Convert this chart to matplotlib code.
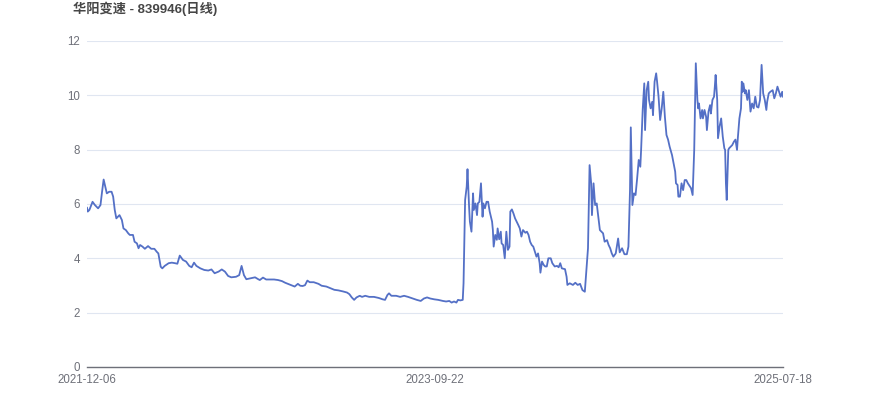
import matplotlib
matplotlib.use('Agg')
import matplotlib.pyplot as plt

plt.rcParams['font.family'] = ['Liberation Sans', 'Noto Sans CJK SC', 'DejaVu Sans']

# Chart info
title = '华阳变速 - 839946(日线)'
tick_dates = ['2021-12-06', '2023-09-22', '2025-07-18']
n_days = 879

# Daily close, sampled (trading-day index, price)
day_a = [0, 1, 3, 7, 10, 14, 17, 19, 21, 23, 25, 28, 31, 33, 35, 37, 41, 44, 46, 49,
         52, 54, 58, 60, 63, 65, 67, 70, 73, 77, 81, 85, 88, 90, 93, 95, 98, 103, 107, 111,
         114, 117, 121, 125, 129, 132, 135, 138, 143, 148, 153, 157, 161, 166, 170, 174, 178, 182, 188, 192,
         195, 198, 201, 206, 212, 216]
close_a = [5.86, 5.72, 5.78, 6.08, 5.96, 5.84, 5.96, 6.45, 6.9, 6.64, 6.39, 6.45, 6.45, 6.27, 5.78, 5.47, 5.59, 5.41, 5.1, 5.04,
           4.92, 4.86, 4.86, 4.61, 4.55, 4.37, 4.49, 4.43, 4.35, 4.45, 4.35, 4.35, 4.24, 4.18, 3.69, 3.63, 3.72, 3.82, 3.84, 3.82,
           3.8, 4.1, 3.94, 3.88, 3.72, 3.67, 3.84, 3.72, 3.63, 3.57, 3.55, 3.59, 3.45, 3.51, 3.59, 3.51, 3.35, 3.3, 3.32, 3.38,
           3.72, 3.38, 3.23, 3.26, 3.3, 3.23]

day_b = [218, 222, 226, 231, 236, 241, 246, 250, 255, 260, 262, 266, 269, 272, 275, 278, 281, 286, 292, 296,
         302, 307, 312, 317, 323, 328, 331, 334, 337, 340, 344, 347, 351, 356, 362, 368, 373, 376, 379, 381,
         384, 390, 395, 400, 405, 411, 416, 421, 425, 429, 433, 438, 443, 449, 453, 457, 460, 463, 466, 468,
         471, 474]
close_b = [3.2, 3.29, 3.22, 3.22, 3.22, 3.2, 3.16, 3.1, 3.04, 2.98, 2.96, 3.06, 2.99, 2.98, 3.01, 3.18, 3.12, 3.12, 3.06, 2.99,
           2.96, 2.9, 2.84, 2.82, 2.78, 2.74, 2.68, 2.56, 2.47, 2.56, 2.62, 2.58, 2.62, 2.58, 2.58, 2.54, 2.49, 2.47, 2.65, 2.71,
           2.62, 2.62, 2.58, 2.62, 2.58, 2.52, 2.47, 2.43, 2.52, 2.56, 2.52, 2.49, 2.47, 2.43, 2.41, 2.43, 2.37, 2.41, 2.37, 2.47,
           2.45, 2.47]

day_c = [475, 477, 479, 480, 482, 483, 485, 487, 488, 490, 492, 493, 495, 497, 499, 500, 502, 504, 506, 508,
         511, 512, 513, 515, 517, 518, 520, 522, 523, 525, 527, 529, 531, 533, 534, 536, 538, 540, 542, 544,
         546, 548, 550, 553, 555, 557, 559, 561, 563, 565, 567, 569, 571, 572, 574, 576, 578, 580, 582, 585,
         587, 590, 593, 595, 597, 599, 603, 605, 606, 609, 613, 616, 619, 622, 625, 628]
close_c = [3.08, 6.15, 6.64, 7.28, 5.9, 5.35, 4.98, 6.39, 5.78, 6.02, 5.59, 6.02, 6.08, 6.76, 5.53, 6.02, 5.84, 6.08, 6.08, 5.72,
           5.35, 5.04, 4.43, 4.86, 4.68, 5.1, 4.7, 4.98, 4.55, 4.49, 4.0, 4.98, 4.31, 4.43, 5.72, 5.8, 5.65, 5.47, 5.35, 5.23,
           5.1, 4.8, 5.04, 4.94, 4.98, 4.86, 4.61, 4.49, 4.43, 4.24, 4.06, 4.18, 3.82, 3.47, 3.88, 3.76, 3.7, 3.7, 4.0, 4.0,
           3.82, 3.7, 3.72, 3.67, 3.82, 3.63, 3.6, 3.32, 3.02, 3.08, 3.02, 3.1, 3.02, 3.06, 2.83, 2.77]

day_d = [630, 632, 634, 636, 637, 639, 641, 643, 645, 647, 649, 651, 653, 656, 658, 660, 662, 664, 667, 670,
         672, 675, 678, 681, 683, 685, 686, 688, 690, 692, 694, 696, 698, 699, 701, 703, 704, 706, 708, 709,
         711, 713, 714, 716, 718, 719, 721, 723, 725, 727, 729, 731, 733, 735, 738, 740, 742, 743, 745, 746,
         748, 750, 752, 754, 756, 758]
close_d = [3.57, 4.37, 7.43, 6.76, 5.59, 6.76, 5.96, 6.02, 5.53, 5.04, 4.98, 4.92, 4.61, 4.67, 4.49, 4.37, 4.18, 4.06, 4.18, 4.73,
           4.22, 4.37, 4.15, 4.15, 4.43, 6.51, 8.82, 5.96, 6.39, 6.33, 6.94, 7.62, 7.37, 7.99, 9.46, 10.44, 8.72, 10.19, 10.5, 9.83,
           9.52, 9.76, 9.27, 10.5, 10.81, 10.55, 9.95, 9.09, 9.52, 10.13, 9.21, 8.54, 8.37, 8.11, 7.8, 7.5, 7.19, 6.76, 6.7, 6.27,
           6.27, 6.76, 6.51, 6.88, 6.88, 6.76]

day_e = [762, 764, 766, 768, 770, 771, 772, 774, 776, 777, 779, 781, 782, 784, 786, 787, 789, 791, 792, 793,
         795, 796, 798, 800, 802, 804, 805, 806, 807, 809, 810, 812, 814, 816, 818, 820, 821, 823, 825, 826,
         827, 828, 830, 831, 833, 835, 837, 839, 841, 843, 845, 847, 849, 851, 853, 855, 857, 858, 860, 862,
         865, 867, 869, 871, 873, 875, 877, 878]
close_e = [6.58, 6.33, 7.99, 11.18, 9.83, 9.52, 9.7, 9.15, 9.46, 9.15, 9.46, 9.21, 8.72, 9.4, 9.64, 9.33, 9.83, 9.95, 10.32, 10.75,
           9.83, 8.42, 8.85, 9.15, 8.48, 8.05, 7.99, 6.76, 6.15, 7.99, 8.05, 8.11, 8.17, 8.29, 8.37, 7.99, 8.42, 9.15, 9.52, 10.5,
           10.13, 10.44, 10.07, 10.19, 9.83, 10.19, 9.4, 9.7, 9.52, 9.95, 9.58, 9.55, 9.83, 11.12, 10.07, 9.83, 9.46, 9.76, 10.07, 10.13,
           10.19, 9.89, 10.07, 10.32, 10.13, 9.95, 10.13, 9.95]

days = day_a + day_b + day_c + day_d + day_e
closes = close_a + close_b + close_c + close_d + close_e

fig = plt.figure(figsize=(8.7, 4.17), dpi=100)
ax = fig.add_axes([0.1, 0.12, 0.8, 0.7817])

ax.plot(days, closes, color='#5470c6', lw=1.3)

ax.set_xlim(0, n_days - 1)
ax.set_ylim(0, 12)
ax.set_yticks(range(0, 13, 2))
ax.set_xticks([0, (n_days - 1) // 2, n_days - 1])
ax.set_xticklabels(tick_dates)

ax.grid(axis='y', color='#e0e6f1', lw=0.8)
ax.set_axisbelow(True)
for s in ['top', 'right', 'left']:
    ax.spines[s].set_visible(False)
ax.spines['bottom'].set_color('#6e7079')
ax.spines['bottom'].set_linewidth(1.0)
ax.tick_params(axis='both', length=0, labelsize=8.3, colors='#6e7079')
ax.tick_params(axis='y', pad=5)
ax.tick_params(axis='x', pad=5)

fig.text(73 / 870, 1 - 9 / 417, title, fontsize=9.5, fontweight='bold',
         color='#464646', ha='left', va='center')

fig.savefig('out.png', dpi=100)
